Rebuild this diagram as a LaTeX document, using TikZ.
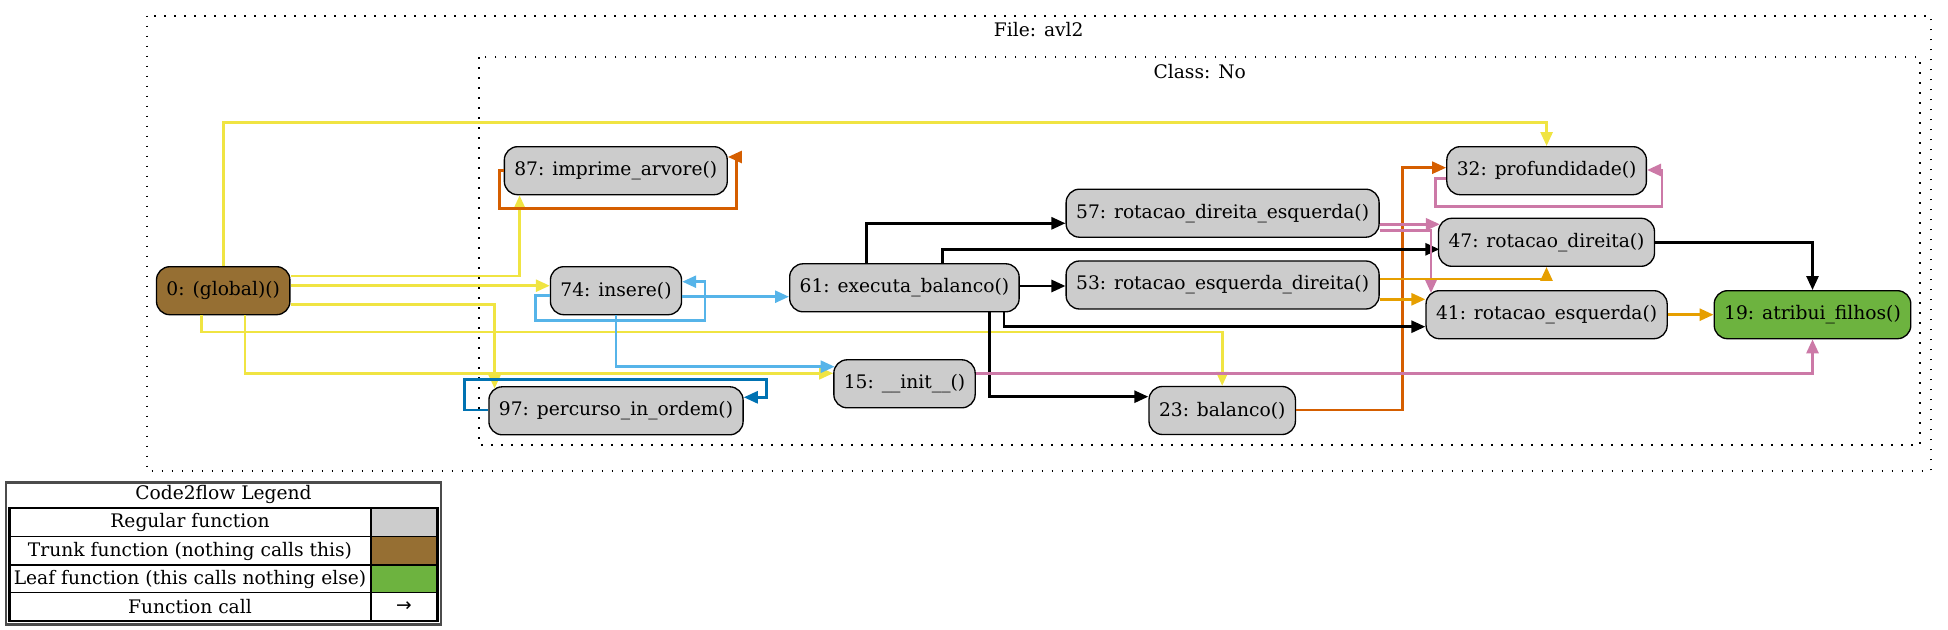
\documentclass[tikz,border=0pt]{standalone}
\usepackage{fontspec}
\setmainfont{DejaVu Serif}
\newfontfamily\arrowfont{DejaVu Sans}
\usetikzlibrary{arrows.meta,calc}
\definecolor{cgray}{HTML}{CCCCCC}
\definecolor{ctrunk}{HTML}{966F33}
\definecolor{cleaf}{HTML}{6DB33F}
\definecolor{eyel}{HTML}{F0E442}
\definecolor{ever}{HTML}{D55E00}
\definecolor{elb}{HTML}{56B4E9}
\definecolor{ebl}{HTML}{0072B2}
\definecolor{epk}{HTML}{CC79A7}
\definecolor{eam}{HTML}{E69F00}
\begin{document}
\begin{tikzpicture}[x=0.75pt,y=-0.75pt,
  fn/.style={draw=black, line width=1pt, rounded corners=10pt, fill=cgray, minimum height=36pt, inner xsep=7.5pt, inner ysep=0pt, font=\fontsize{14pt}{17pt}\selectfont, text=black},
  trunk/.style={fn, fill=ctrunk},
  leaf/.style={fn, fill=cleaf},
  call/.style={line width=2pt, -{Triangle[length=10.5pt,width=9pt]}},
  cluster/.style={draw=black, line width=1.3pt, dash pattern=on 1.3pt off 6.2pt},
  lbl/.style={font=\fontsize{14pt}{17pt}\selectfont, inner sep=0pt, text=black},
  legline/.style={line width=0.9pt, draw=black},
]
\useasboundingbox (0,0) rectangle (1948,630);

% clusters
\draw[cluster] (147,15.7) rectangle (1931,471);
\node[lbl] (filelbl) at (1038.7,30) {File: avl2};
\draw[cluster] (479,57.3) rectangle (1920,445);
\node[lbl] (classlbl) at (1199.7,71.7) {Class: No};

% nodes
\node[trunk] (g) at (223.2,290.7) {0: (global)()};
\node[fn] (n87) at (615.8,170.7) {87: imprime\_arvore()};
\node[fn] (n74) at (616,290.7) {74: insere()};
\node[fn] (n97) at (616,410.8) {97: percurso\_in\_ordem()};
\node[fn] (n61) at (904.4,287.8) {61: executa\_balanco()};
\node[fn] (n15) at (904.5,383.8) {15: \_\_init\_\_()};
\node[fn] (n57) at (1222.6,213.2) {57: rotacao\_direita\_esquerda()};
\node[fn] (n53) at (1222.6,285) {53: rotacao\_esquerda\_direita()};
\node[fn] (n23) at (1222.2,410.5) {23: balanco()};
\node[fn] (n32) at (1546.6,170.7) {32: profundidade()};
\node[fn] (n47) at (1546.5,242.3) {47: rotacao\_direita()};
\node[fn] (n41) at (1546.6,314.7) {41: rotacao\_esquerda()};
\node[leaf] (n19) at (1812.5,314.7) {19: atribui\_filhos()};

% yellow: global calls
\draw[call,eyel] (g.north) |- (n32.north |- 0,122.7) -- (n32.north);
\draw[call,eyel] (g.east |- 0,276) -| (n87.south -| 519.6,0);
\draw[call,eyel] (g.east |- 0,285.7) -- (n74.west |- 0,285.7);
\draw[call,eyel] (g.east |- 0,304.3) -| ($(n97.north -| 494.6,0)+(0,2.5)$);
\draw[call,eyel] (g.south -| 201.8,0) |- (n23.north |- 0,332) -- (n23.north);
\draw[call,eyel] (g.south -| 245.1,0) |- (n15.west |- 0,373.3);

% vermilion
\draw[call,ever] (n87.west) -- (499.6,170.7) |- (736.2,208.7) |- (n87.east |- 0,157);
\draw[call,ever] (n23.east |- 0,410) -| (1402.2,167.7) -- (n32.west |- 0,167.7);

% light blue
\draw[call,elb] (n74.west |- 0,295.7) -- (535.3,295.7) |- (704.9,320.7) |- (n74.east |- 0,281.7);
\draw[call,elb] (n74.east |- 0,296.7) -- (n61.west |- 0,296.7);
\draw[call,elb] (n74.south) |- ($(n15.west |- 0,366.7)+(1.5,0)$);

% blue
\draw[call,ebl] (n97.west |- 0,410) -- (464.7,410) |- (766.5,379.3) |- (n97.east |- 0,397.3);

% black
\draw[call,black] (n61.north -| 866.5,0) |- (n57.west |- 0,223.3);
\draw[call,black] (n61.north -| 942.6,0) |- ($(n47.west |- 0,249.3)+(1.5,0)$);
\draw[call,black] (n61.east |- 0,286) -- (n53.west |- 0,286);
\draw[call,black] (n61.south -| 1003.9,0) |- (n41.west |- 0,326.7);
\draw[call,black] (n61.south -| 989.3,0) |- (n23.west |- 0,396.7);
\draw[call,black] (n47.east) -| (n19.north);

% pink
\draw[call,epk] (n32.west |- 0,178.3) -- (1435.4,178.3) |- (1662,206.7) |- (n32.east |- 0,170);
\draw[call,epk] (n57.east |- 0,224.3) -- ($(n47.west |- 0,224.3)+(2,0)$);
\draw[call,epk] (n57.east |- 0,230.7) -| ($(n41.north -| 1431,0)+(0,3)$);
\draw[call,epk] (n15.east |- 0,373.3) -| (n19.south);

% amber
\draw[call,eam] (n53.east |- 0,279) -| (n47.south);
\draw[call,eam] (n53.east |- 0,299.3) -- (n41.west |- 0,299.3);
\draw[call,eam] (n41.east) -- (n19.west);

% legend
\fill[cgray] (371,508) rectangle (437.5,536.7);
\fill[ctrunk] (371,536.7) rectangle (437.5,565);
\fill[cleaf] (371,565) rectangle (437.5,592.7);
\draw[legline] (9.5,536.7) -- (437.5,536.7);
\draw[legline] (9.5,565) -- (437.5,565);
\draw[legline] (9.5,592.7) -- (437.5,592.7);
\draw[legline] (371,508) -- (371,621);
\draw[line width=1.6pt, black] (9.5,508) rectangle (437.5,621);
\draw[line width=1.8pt, black!70] (6,482.5) rectangle (441,624.5);
\node[lbl] (legtitle) at (223.5,494) {Code2flow Legend};
\node[lbl] (legreg) at (190,522.5) {Regular function};
\node[lbl] (legtrunk) at (190,551) {Trunk function (nothing calls this)};
\node[lbl] (legleaf) at (190,579) {Leaf function (this calls nothing else)};
\node[lbl] (legcall) at (190,607) {Function call};
\node[lbl] (legarrow) at (404,607) {\arrowfont →};
\end{tikzpicture}
\end{document}
